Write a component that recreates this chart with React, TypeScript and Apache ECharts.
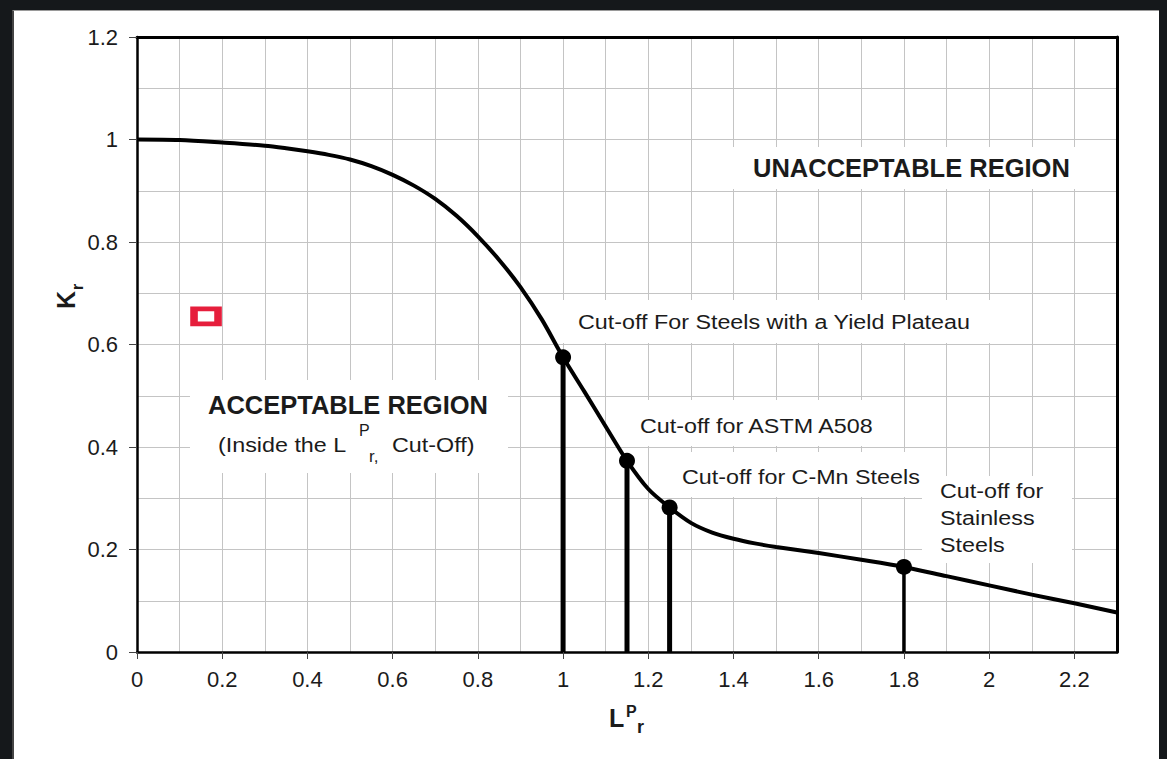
import React, { useEffect, useRef } from "react";
import * as echarts from "echarts";

// ---- Data ----
const lrValues = [0, 0.1, 0.2, 0.3, 0.35, 0.4, 0.45, 0.5, 0.55, 0.6, 0.65, 0.7, 0.75, 0.8, 0.85, 0.9, 0.95, 1.0, 1.05, 1.1, 1.15, 1.2, 1.25, 1.3, 1.35, 1.4, 1.45, 1.5, 1.6, 1.7, 1.8, 1.9, 2.0, 2.1, 2.2, 2.3];
const krValues = [1.0, 0.999, 0.994, 0.988, 0.983, 0.977, 0.970, 0.961, 0.948, 0.931, 0.910, 0.884, 0.851, 0.811, 0.765, 0.712, 0.649, 0.575, 0.508, 0.44, 0.373, 0.318, 0.282, 0.252, 0.233, 0.221, 0.212, 0.205, 0.193, 0.18, 0.166, 0.148, 0.130, 0.112, 0.095, 0.077];
const cutoffLr = [1.0, 1.15, 1.25, 1.8];
const cutoffKr = [0.575, 0.373, 0.282, 0.166];
const assessmentPoint = [0.162, 0.655];
const xTickLabels = ["0", "0.2", "0.4", "0.6", "0.8", "1", "1.2", "1.4", "1.6", "1.8", "2", "2.2"];
const yTickLabels = ["0", "0.2", "0.4", "0.6", "0.8", "1", "1.2"];

const FONT = "'Liberation Sans', Arial, Helvetica, sans-serif";
const TEXT = "#1b1b1b";
const GRID = "#c4c4c4";

function tickFormatter(labels: string[], step: number) {
  return (v: number) => {
    const i = Math.round(v / step);
    return Math.abs(i * step - v) < 1e-6 && labels[i] !== undefined ? labels[i] : "";
  };
}

// layout of annotation text boxes (pixels)
const whiteBoxes = [
  [560, 300, 440, 43],
  [625, 400, 265, 46],
  [660, 452, 262, 45],
  [922, 476, 150, 87],
  [190, 380, 318, 93],
  [725, 147, 365, 42],
];

const REG = "21px 'Liberation Sans', Arial, sans-serif";
const BOLD = "bold 25px 'Liberation Sans', Arial, sans-serif";

function txt(text: string, x: number, y: number, font: string, scaleX = 1, extra: any = {}) {
  return {
    type: "text",
    x,
    y,
    scaleX,
    z: 5,
    silent: true,
    style: { text, font, fill: TEXT, textAlign: "left", textVerticalAlign: "middle", ...extra },
  };
}

export default function App() {
  const ref = useRef<HTMLDivElement>(null);
  useEffect(() => {
    const chart = echarts.init(ref.current!, null, { renderer: "svg" });
    const curve = lrValues.map((x, i) => [x, krValues[i]]);
    const dropSeries = cutoffLr.map((x, i) => ({
      type: "line",
      data: [[x, 0], [x, cutoffKr[i]]],
      symbol: "none",
      silent: true,
      z: 3,
      lineStyle: { color: "#000", width: i === cutoffLr.length - 1 ? 3.5 : 5 },
    }));
    const S = 1.11;
    const graphics: any[] = [
      ...whiteBoxes.map(([x, y, w, h]) => ({
        type: "rect",
        shape: { x, y, width: w, height: h },
        style: { fill: "#fff" },
        z: 1,
        silent: true,
      })),
      txt("UNACCEPTABLE REGION", 753, 168, BOLD, 1.02),
      txt("ACCEPTABLE REGION", 208, 405, BOLD, 1.02),
      txt("(Inside the L", 218, 445, REG, S),
      txt("P", 359, 430, "16px 'Liberation Sans', Arial, sans-serif"),
      txt("r,", 369, 456, "17px 'Liberation Sans', Arial, sans-serif"),
      txt("Cut-Off)", 392, 445, REG, S),
      txt("Cut-off For Steels with a Yield Plateau", 578, 322, REG, S),
      txt("Cut-off for ASTM A508", 640, 426, REG, S),
      txt("Cut-off for C-Mn Steels", 682, 477, REG, S),
      txt("Cut-off for", 940, 491, REG, S),
      txt("Stainless", 940, 518, REG, S),
      txt("Steels", 940, 545, REG, S),
      // axis titles
      {
        type: "text", x: 65.5, y: 300, rotation: Math.PI / 2, z: 5, silent: true,
        style: { text: "K", font: "bold 25px 'Liberation Sans', Arial, sans-serif", fill: TEXT, textAlign: "center", textVerticalAlign: "middle" },
      },
      {
        type: "text", x: 77, y: 287, rotation: Math.PI / 2, z: 5, silent: true,
        style: { text: "r", font: "bold 17px 'Liberation Sans', Arial, sans-serif", fill: TEXT, textAlign: "center", textVerticalAlign: "middle" },
      },
      txt("L", 609, 718, "bold 25px 'Liberation Sans', Arial, sans-serif"),
      txt("P", 626, 711, "bold 16px 'Liberation Sans', Arial, sans-serif"),
      txt("r", 637, 727, "bold 18px 'Liberation Sans', Arial, sans-serif"),
    ];

    chart.setOption({
      animation: false,
      grid: { left: 137, top: 37, right: 50, bottom: 107 },
      xAxis: [
        {
          type: "value", min: 0, max: 2.3, interval: 0.2, position: "bottom",
          axisLine: { show: true, onZero: false, lineStyle: { color: "#000", width: 2.5 } },
          axisTick: { show: true, length: 7, lineStyle: { color: "#444", width: 1 } },
          axisLabel: { margin: 16, fontSize: 22, color: TEXT, fontFamily: FONT, showMaxLabel: false, formatter: tickFormatter(xTickLabels, 0.2) },
          splitLine: { show: false },
        },
        {
          type: "value", min: 0, max: 2.3, interval: 0.1, position: "top",
          axisLine: { show: true, onZero: false, lineStyle: { color: "#000", width: 3 } },
          axisTick: { show: false }, axisLabel: { show: false },
          splitLine: { show: true, showMinLine: false, showMaxLine: false, lineStyle: { color: GRID, width: 1 } },
        },
      ],
      yAxis: [
        {
          type: "value", min: 0, max: 1.2, interval: 0.2, position: "left",
          axisLine: { show: true, onZero: false, lineStyle: { color: "#000", width: 2.5 } },
          axisTick: { show: true, length: 8, lineStyle: { color: "#444", width: 1 } },
          axisLabel: { margin: 19, fontSize: 22, color: TEXT, fontFamily: FONT, formatter: tickFormatter(yTickLabels, 0.2) },
          splitLine: { show: true, showMinLine: false, showMaxLine: false, lineStyle: { color: GRID, width: 1 } },
          minorTick: { show: false, splitNumber: 2 },
          minorSplitLine: { show: true, lineStyle: { color: GRID, width: 1 } },
        },
        {
          type: "value", min: 0, max: 1.2, interval: 0.2, position: "right",
          axisLine: { show: true, onZero: false, lineStyle: { color: "#000", width: 3 } },
          axisTick: { show: false }, axisLabel: { show: false }, splitLine: { show: false },
        },
      ],
      graphic: graphics,
      series: [
        {
          type: "line",
          data: curve,
          smooth: 0.3,
          symbol: "none",
          silent: true,
          z: 4,
          lineStyle: { color: "#000", width: 4 },
        },
        ...dropSeries,
        {
          type: "scatter",
          data: cutoffLr.map((x, i) => [x, cutoffKr[i]]),
          symbol: "circle",
          symbolSize: 16,
          silent: true,
          z: 6,
          itemStyle: { color: "#000", opacity: 1 },
        },
        {
          type: "scatter",
          data: [assessmentPoint],
          symbol: "rect",
          symbolSize: [24, 15],
          silent: true,
          z: 6,
          itemStyle: { color: "#fff", borderColor: "#e61e3c", borderWidth: 6, opacity: 1 },
        },
      ],
    });
    return () => chart.dispose();
  }, []);

  return (
    <div style={{ position: "fixed", left: 0, top: 0, width: 1167, height: 759, background: "#15181b", overflow: "hidden" }}>
      <div style={{ position: "absolute", left: 12, top: 10, width: 1147, height: 749, background: "#fff", borderTop: "1px solid #9a9a9a", borderLeft: "2px solid #444", boxSizing: "border-box" }} />
      <div ref={ref} style={{ position: "absolute", left: 0, top: 0, width: 1167, height: 759 }} />
    </div>
  );
}
